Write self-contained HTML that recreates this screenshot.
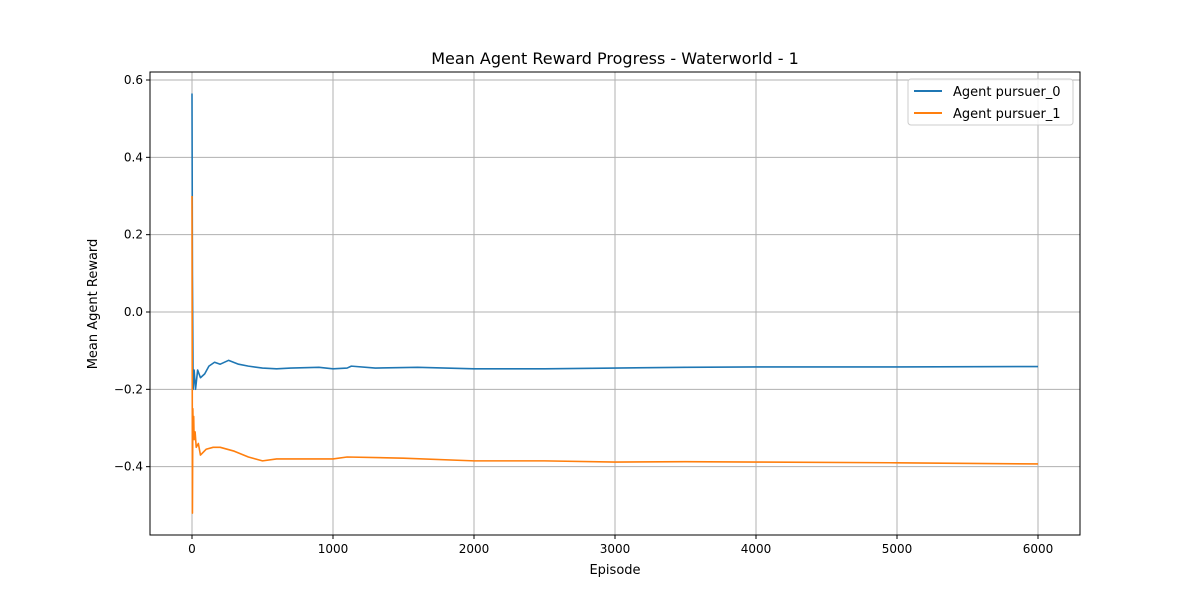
<!DOCTYPE html>
<html><head><meta charset="utf-8"><style>
body{margin:0;background:#fff;font-family:"Liberation Sans","DejaVu Sans",sans-serif}
</style></head><body>
<svg id="c" width="1200" height="600" xmlns="http://www.w3.org/2000/svg" font-family="DejaVu Sans, Liberation Sans, sans-serif">
<rect width="1200" height="600" fill="#fff"/>
<g id="grid"></g><g id="series"></g><g id="axes"></g>
</svg>
<script>
const xTicks=[0,1000,2000,3000,4000,5000,6000];
const yTicks=[-0.4,-0.2,0.0,0.2,0.4,0.6];
const ep0=[0,3,8,15,25,40,60,90,120,160,200,260,330,400,500,600,700,900,1000,1100,1130,1300,1600,2000,2500,3000,3500,4000,5000,6000];
const r0=[0.565,0.1,-0.2,-0.15,-0.2,-0.15,-0.17,-0.16,-0.14,-0.13,-0.135,-0.125,-0.135,-0.14,-0.145,-0.147,-0.145,-0.143,-0.147,-0.145,-0.14,-0.145,-0.143,-0.147,-0.147,-0.145,-0.143,-0.142,-0.142,-0.141];
const ep1=[0,3,6,8,12,15,22,30,45,60,100,150,200,300,400,500,600,800,1000,1100,1500,2000,2500,3000,3500,4000,5000,6000];
const r1=[0.3,-0.52,-0.25,-0.3,-0.27,-0.33,-0.31,-0.35,-0.34,-0.37,-0.355,-0.35,-0.35,-0.36,-0.375,-0.385,-0.38,-0.38,-0.38,-0.375,-0.378,-0.385,-0.385,-0.388,-0.387,-0.388,-0.39,-0.393];
const L=150,R=1080,T=72,B=535;
const X=v=>192+v*(1038-192)/6000;
const Y=v=>312-v*(312-80)/0.6;
const NS='http://www.w3.org/2000/svg';
function el(tag,attrs,parent,text){const e=document.createElementNS(NS,tag);for(const k in attrs)e.setAttribute(k,attrs[k]);if(text!==undefined)e.textContent=text;parent.appendChild(e);return e;}
const g=document.getElementById('grid'),s=document.getElementById('series'),a=document.getElementById('axes');
xTicks.forEach(t=>{const x=X(t);
 const l=el('line',{x1:x,x2:x,y1:T,y2:B,stroke:'#b0b0b0','stroke-width':1},g);
 
 el('line',{x1:x,x2:x,y1:B,y2:B+4,stroke:'#000'},a);
 const tx=el('text',{x:x,y:B+18,'font-size':12,'text-anchor':'middle'},a,String(t));
 });
yTicks.forEach(t=>{const y=Y(t);
 const l=el('line',{x1:L,x2:R,y1:y,y2:y,stroke:'#b0b0b0','stroke-width':1},g);
 
 el('line',{x1:L-4,x2:L,y1:y,y2:y,stroke:'#000'},a);
 const tx=el('text',{x:L-7,y:y+4,'font-size':12,'text-anchor':'end'},a,t.toFixed(1).replace('-','\u2212'));
 });
function line(ep,r,c,name){const p=el('polyline',{points:ep.map((e,i)=>X(e)+','+Y(r[i])).join(' '),fill:'none',stroke:c,'stroke-width':1.6,'stroke-linejoin':'round'},s);
 }
line(ep0,r0,'#1f77b4','series-pursuer-0');
line(ep1,r1,'#ff7f0e','series-pursuer-1');
const fr=el('rect',{x:L,y:T,width:R-L,height:B-T,fill:'none',stroke:'#000','stroke-width':1},a);

let t=el('text',{x:615,y:64,'font-size':16,'text-anchor':'middle'},a,'Mean Agent Reward Progress - Waterworld - 1');

t=el('text',{x:615,y:574,'font-size':13,'text-anchor':'middle'},a,'Episode');

t=el('text',{x:0,y:0,'font-size':13,'text-anchor':'middle',transform:'translate(97,304) rotate(-90)'},a,'Mean Agent Reward');

const lg=el('g',{},a);

el('rect',{x:908,y:79,width:165,height:46,rx:3,fill:'#fff','fill-opacity':0.85,stroke:'#ccc'},lg);
[['Agent pursuer_0','#1f77b4',91],['Agent pursuer_1','#ff7f0e',113]].forEach(([n,c,y])=>{
 const e=el('g',{},lg);
 el('line',{x1:914,x2:942,y1:y,y2:y,stroke:c,'stroke-width':2},e);
 el('text',{x:953,y:y+5,'font-size':13},e,n);});
</script>
</body></html>
